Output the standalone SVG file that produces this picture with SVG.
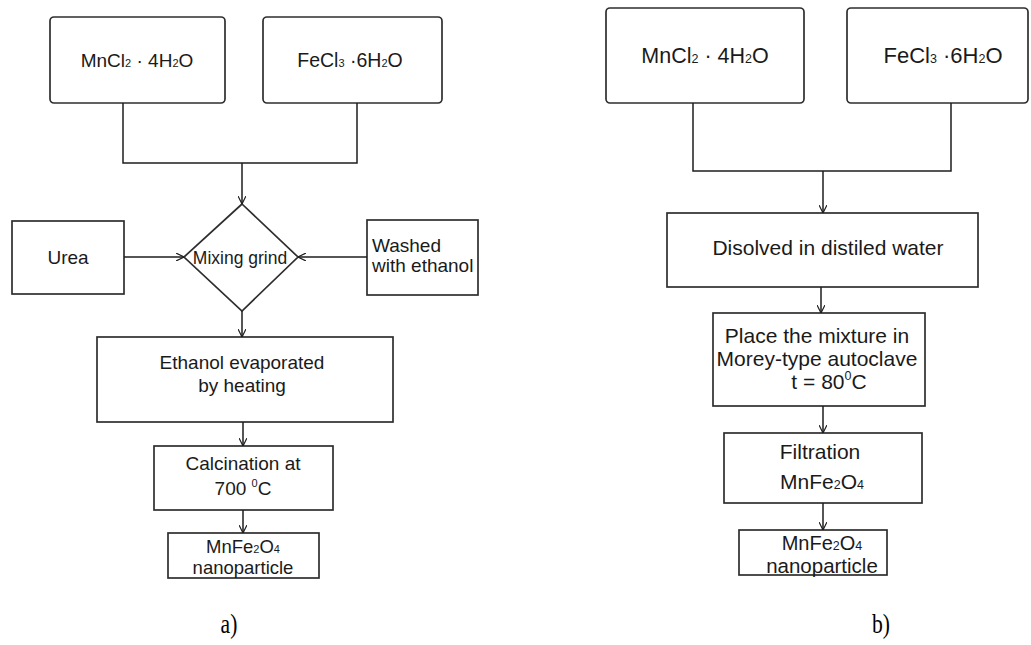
<svg xmlns="http://www.w3.org/2000/svg" width="1031" height="645" viewBox="0 0 1031 645">
<style>
  .box { fill: #fff; stroke: #2e2e2e; stroke-width: 1.7; }
  .line { fill: none; stroke: #1e1e1e; stroke-width: 1.5; }
  .t { font-family: "Liberation Sans", Arial, sans-serif; fill: #1a1a1a; text-anchor: middle; }
  .a { font-size: 18.5px; }
  .b { font-size: 21px; }
  .sub { font-size: 11px; }
  .subb { font-size: 12.5px; }
  .cap { font-family: "Liberation Serif", "Times New Roman", serif; font-size: 27px; fill: #000; text-anchor: middle; }
</style>
<defs>
  <marker id="arr" viewBox="0 0 10 10" refX="10" refY="5" markerWidth="8" markerHeight="8" markerUnits="userSpaceOnUse" orient="auto">
    <path d="M0,0 L10,5 L0,10" fill="none" stroke="#1e1e1e" stroke-width="1.5"/>
  </marker>
</defs>
<rect width="1031" height="645" fill="#fff"/>

<!-- Left panel (a) nodes -->
<g id="a-mncl">
  <rect class="box" x="50" y="17" width="175" height="86" rx="4"/>
  <text class="t a" x="137" y="67" style="font-size:19px">MnCl<tspan class="sub">2</tspan> · 4H<tspan class="sub">2</tspan>O</text>
</g>
<g id="a-fecl">
  <rect class="box" x="263" y="17" width="179" height="86" rx="4"/>
  <text class="t a" x="350" y="67" style="font-size:19.5px">FeCl<tspan class="sub">3</tspan> ·6H<tspan class="sub">2</tspan>O</text>
</g>
<g id="a-urea">
  <rect class="box" x="12" y="221" width="112" height="73"/>
  <text class="t a" x="68" y="264" style="font-size:19px">Urea</text>
</g>
<g id="a-mix">
  <polygon class="box" points="242,204 298,257 242,311 184,257"/>
  <text class="t a" x="240" y="264" style="font-size:17.5px">Mixing grind</text>
</g>
<g id="a-washed">
  <rect class="box" x="367" y="220" width="111" height="75"/>
  <text class="t a" x="372" y="252" style="text-anchor:start;font-size:19px">Washed</text>
  <text class="t a" x="372" y="272" style="text-anchor:start;font-size:19px">with ethanol</text>
</g>
<g id="a-evap">
  <rect class="box" x="97" y="337" width="296" height="85"/>
  <text class="t a" x="242" y="369" style="font-size:19px">Ethanol evaporated</text>
  <text class="t a" x="242" y="392" style="font-size:19px">by heating</text>
</g>
<g id="a-calc">
  <rect class="box" x="154" y="446" width="179" height="64"/>
  <text class="t a" x="243" y="470" style="font-size:19px">Calcination at</text>
  <text class="t a" x="243" y="495" style="font-size:19px">700 <tspan class="sub" dy="-8">0</tspan><tspan dy="8">C</tspan></text>
</g>
<g id="a-nano">
  <rect class="box" x="168" y="533" width="151" height="45"/>
  <text class="t a" x="243" y="553">MnFe<tspan class="sub">2</tspan>O<tspan class="sub">4</tspan></text>
  <text class="t a" x="243" y="574">nanoparticle</text>
</g>

<!-- Right panel (b) nodes -->
<g id="b-mncl">
  <rect class="box" x="606" y="8" width="198" height="95" rx="4"/>
  <text class="t b" x="705" y="63" style="font-size:21.5px">MnCl<tspan class="subb">2</tspan> · 4H<tspan class="subb">2</tspan>O</text>
</g>
<g id="b-fecl">
  <rect class="box" x="847" y="8" width="181" height="95" rx="4"/>
  <text class="t b" x="943" y="63" style="font-size:22px">FeCl<tspan class="subb">3</tspan> ·6H<tspan class="subb">2</tspan>O</text>
</g>
<g id="b-dis">
  <rect class="box" x="667" y="213" width="311" height="74"/>
  <text class="t b" x="828" y="255">Disolved in distiled water</text>
</g>
<g id="b-place">
  <rect class="box" x="713" y="313" width="212" height="93"/>
  <text class="t b" x="817" y="343">Place the mixture in</text>
  <text class="t b" x="817" y="366">Morey-type autoclave</text>
  <text class="t b" x="829" y="389">t = 80<tspan class="subb" dy="-9">0</tspan><tspan dy="9">C</tspan></text>
</g>
<g id="b-filt">
  <rect class="box" x="724" y="433" width="198" height="70"/>
  <text class="t b" x="820" y="459">Filtration</text>
  <text class="t b" x="822" y="489">MnFe<tspan class="subb">2</tspan>O<tspan class="subb">4</tspan></text>
</g>
<g id="b-nano">
  <rect class="box" x="739" y="530" width="148" height="45"/>
  <text class="t b" x="822" y="550" style="font-size:20px">MnFe<tspan class="subb">2</tspan>O<tspan class="subb">4</tspan></text>
  <text class="t b" x="822" y="573" style="font-size:20.5px">nanoparticle</text>
</g>

<!-- Connectors -->
<g id="connectors">
  <polyline class="line" points="123,103 123,163 357,163 357,103"/>
  <line class="line" x1="242" y1="163" x2="242" y2="204" marker-end="url(#arr)"/>
  <line class="line" x1="124" y1="257" x2="184" y2="257" marker-end="url(#arr)"/>
  <line class="line" x1="367" y1="257" x2="298" y2="257" marker-end="url(#arr)"/>
  <line class="line" x1="242" y1="311" x2="242" y2="337" marker-end="url(#arr)"/>
  <line class="line" x1="243" y1="422" x2="243" y2="446" marker-end="url(#arr)"/>
  <line class="line" x1="243" y1="510" x2="243" y2="533" marker-end="url(#arr)"/>

  <polyline class="line" points="693,103 693,171 951,171 951,103"/>
  <line class="line" x1="823" y1="171" x2="823" y2="213" marker-end="url(#arr)"/>
  <line class="line" x1="821" y1="287" x2="821" y2="313" marker-end="url(#arr)"/>
  <line class="line" x1="823" y1="406" x2="823" y2="433" marker-end="url(#arr)"/>
  <line class="line" x1="823" y1="503" x2="823" y2="530" marker-end="url(#arr)"/>
</g>

<text class="cap" transform="translate(229,633) scale(0.8,1)">a)</text>
<text class="cap" transform="translate(881,633) scale(0.8,1)">b)</text>
</svg>
